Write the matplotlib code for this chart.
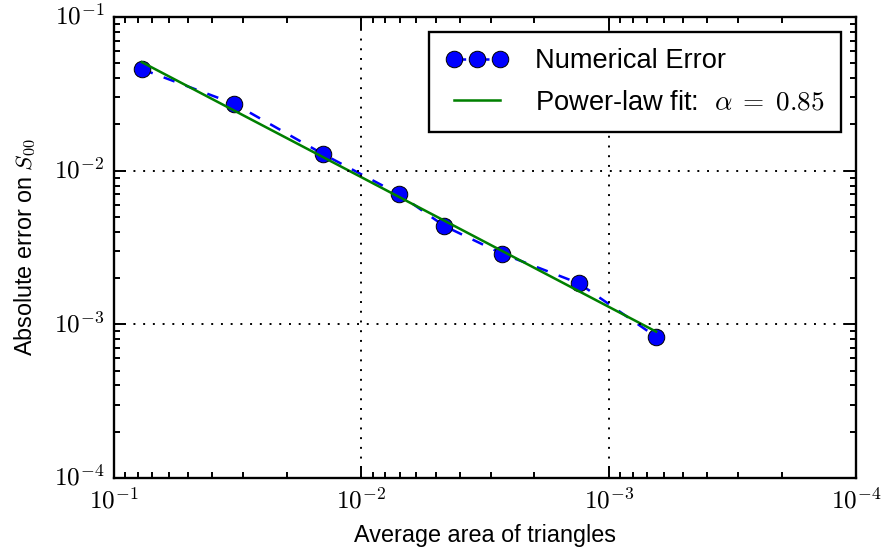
import numpy as np
import matplotlib
matplotlib.use('Agg')
import matplotlib.pyplot as plt
from matplotlib.ticker import FuncFormatter

# average triangle area and absolute error
area = [0.0772, 0.0326, 0.01432, 0.00704, 0.004617, 0.002706, 0.001318, 0.000643]
error = [0.04576, 0.0272, 0.01285, 0.00702, 0.004362, 0.002888, 0.001847, 0.000829]
alpha_label = 0.85

plt.style.use('classic')
plt.rcParams['font.family'] = ['Liberation Sans', 'DejaVu Sans']
plt.rcParams['mathtext.fontset'] = 'cm'

# power-law fit in log space
coef = np.polyfit(np.log10(area), np.log10(error), 1)
fit = 10 ** np.polyval(coef, np.log10(area))

fig = plt.figure(figsize=(886 / 140, 552 / 140), dpi=140)
ax = fig.add_axes([114 / 886, 1 - 478 / 552, 742 / 886, 461 / 552])

ax.loglog(area, error, 'o--', color='b', markersize=8.5, lw=1.3,
          markeredgecolor='k', label='Numerical Error')
ax.loglog(area, fit, '-', color='g', lw=1.3,
          label=r'Power-law fit: $\ \alpha\;=\;%.2f$' % alpha_label)

ax.set_xlim(1e-1, 1e-4)
ax.set_ylim(1e-4, 1e-1)
ax.grid(True, which='major', color='k', linestyle=(0, (1, 4)), lw=1.0)

pow_fmt = FuncFormatter(lambda v, pos: r'$10^{%d}$' % round(np.log10(v)))
ax.xaxis.set_major_formatter(pow_fmt)
ax.yaxis.set_major_formatter(pow_fmt)
ax.tick_params(which='major', labelsize=13, length=6, width=1.0, pad=5)
ax.tick_params(which='minor', length=3, width=1.0)
for s in ax.spines.values():
    s.set_linewidth(1.2)

ax.set_xlabel('Average area of triangles', fontsize=12, labelpad=5.5)
ax.set_ylabel(r'Absolute error on $S_{00}$', fontsize=12, labelpad=8)
leg = ax.legend(loc='upper right', numpoints=3, fontsize=14, borderpad=0.6,
                handlelength=2.3, handletextpad=1.0, labelspacing=0.57,
                borderaxespad=0.55)
leg.get_frame().set_linewidth(1.2)

fig.savefig('out.png', dpi=140)
